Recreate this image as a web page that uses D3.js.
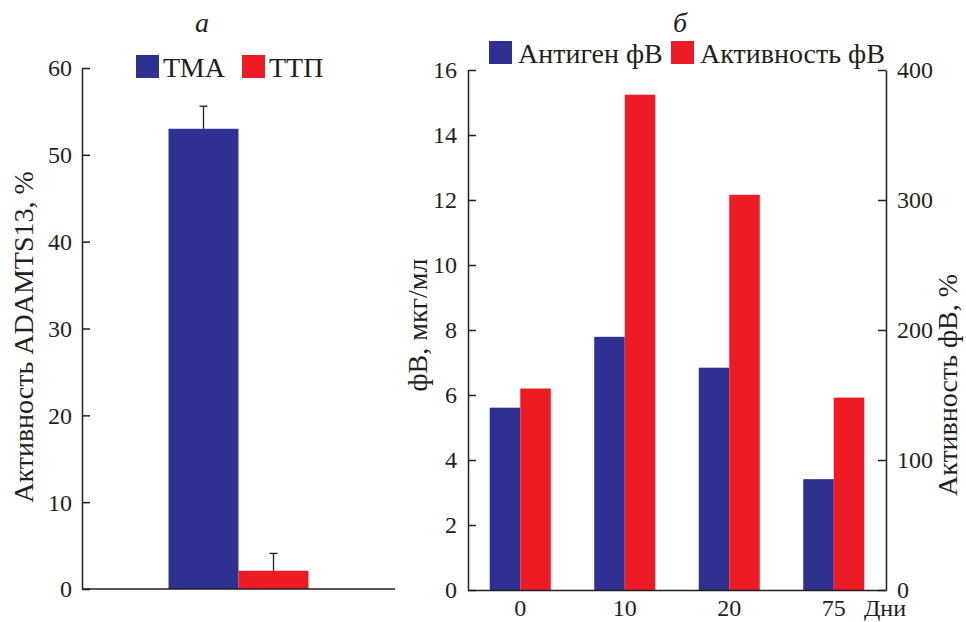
<!DOCTYPE html>
<html><head><meta charset="utf-8"><script src="https://cdn.jsdelivr.net/npm/d3@7"></script></head>
<body style="margin:0">
<svg id="chart" width="966" height="622"></svg>
<script>
// panel a data
var groupsA = ["ТМА", "ТТП"];
var valuesA = [53.0, 2.1];
var errorsA = [2.6, 2.0];
var ticksA = [0, 10, 20, 30, 40, 50, 60];

// panel b data
var days = ["0", "10", "20", "75"];
var antigen = [5.61, 7.79, 6.84, 3.41];
var activity = [155, 381, 304, 148];
var ticksLeftB = [0, 2, 4, 6, 8, 10, 12, 14, 16];
var ticksRightB = [0, 100, 200, 300, 400];
var seriesB = ["Антиген фВ", "Активность фВ"];

var blue = "#2e3192", red = "#ed1c24", ink = "#231f20";
var svg = d3.select("#chart");

// all texts go straight on the svg root
function txt(size, s) {
  return svg.append("text")
    .style("font-family", "'Liberation Serif'")
    .style("font-size", size + "px")
    .attr("fill", ink)
    .text(s);
}

// ---------- panel a ----------
var xA = d3.scaleBand().domain(["g"]).range([82, 395]).padding(0.382);
var xAin = d3.scaleBand().domain(groupsA).range([0, xA.bandwidth()]);
var yA = d3.scaleLinear().domain([0, 60]).range([589, 68]);

svg.selectAll("rect.barA")
  .data(groupsA)
  .join("rect")
  .attr("x", d => xA("g") + xAin(d))
  .attr("y", (d, i) => yA(valuesA[i]))
  .attr("width", xAin.bandwidth())
  .attr("height", (d, i) => yA(0) - yA(valuesA[i]))
  .attr("fill", (d, i) => i == 0 ? blue : red);

// error bars, upward only
groupsA.forEach((d, i) => {
  var cx = xA("g") + xAin(d) + xAin.bandwidth() / 2;
  var top = yA(valuesA[i] + errorsA[i]);
  svg.append("line")
    .attr("x1", cx).attr("x2", cx)
    .attr("y1", yA(valuesA[i])).attr("y2", top)
    .attr("stroke", ink).attr("stroke-width", 1.3);
  svg.append("line")
    .attr("x1", cx - 4).attr("x2", cx + 4)
    .attr("y1", top).attr("y2", top)
    .attr("stroke", ink).attr("stroke-width", 1.3);
});

svg.append("g")
  .attr("transform", "translate(82,0)")
  .call(d3.axisRight(yA).tickValues(ticksA).tickSize(8).tickFormat("").tickSizeOuter(0));
ticksA.forEach(t => {
  txt(24, t).attr("x", 72).attr("y", yA(t)).attr("dy", "0.35em").attr("text-anchor", "end");
});
svg.append("line")
  .attr("x1", 82).attr("x2", 395).attr("y1", yA(0)).attr("y2", yA(0))
  .attr("stroke", ink).attr("stroke-width", 1.5);

txt(28, "Активность ADAMTS13, %")
  .attr("transform", "translate(33,337) rotate(-90)")
  .attr("text-anchor", "middle");

txt(28, "а")
  .attr("x", 202).attr("y", 32)
  .attr("text-anchor", "middle")
  .style("font-style", "italic");

// legend a
var legA = [{ x: 136, c: blue }, { x: 242, c: red }];
groupsA.forEach((d, i) => {
  svg.append("rect").attr("x", legA[i].x).attr("y", 55).attr("width", 23).attr("height", 23).attr("fill", legA[i].c);
  txt(28, d).attr("x", legA[i].x + 27).attr("y", 77);
});

// ---------- panel b ----------
var xB = d3.scaleBand().domain(days).range([468, 886]).paddingInner(0.416).paddingOuter(0.208);
var xBin = d3.scaleBand().domain(seriesB).range([0, xB.bandwidth()]);
var yL = d3.scaleLinear().domain([0, 16]).range([590, 70]);
var yR = d3.scaleLinear().domain([0, 400]).range([590, 70]);

svg.selectAll("rect.ag")
  .data(days)
  .join("rect")
  .attr("x", d => xB(d) + xBin(seriesB[0]))
  .attr("y", (d, i) => yL(antigen[i]))
  .attr("width", xBin.bandwidth())
  .attr("height", (d, i) => yL(0) - yL(antigen[i]))
  .attr("fill", blue);

svg.selectAll("rect.act")
  .data(days)
  .join("rect")
  .attr("x", d => xB(d) + xBin(seriesB[1]))
  .attr("y", (d, i) => yR(activity[i]))
  .attr("width", xBin.bandwidth())
  .attr("height", (d, i) => yR(0) - yR(activity[i]))
  .attr("fill", red);

svg.append("g")
  .attr("transform", "translate(468,0)")
  .call(d3.axisRight(yL).tickValues(ticksLeftB).tickSize(8).tickFormat("").tickSizeOuter(0));
ticksLeftB.forEach(t => {
  txt(24, t).attr("x", 457).attr("y", yL(t)).attr("dy", "0.35em").attr("text-anchor", "end");
});

svg.append("g")
  .attr("transform", "translate(886,0)")
  .call(d3.axisLeft(yR).tickValues(ticksRightB).tickSize(8).tickFormat("").tickSizeOuter(0));
ticksRightB.forEach(t => {
  txt(24, t).attr("x", 897).attr("y", yR(t)).attr("dy", "0.35em");
});

svg.append("g")
  .attr("transform", "translate(0,590)")
  .call(d3.axisBottom(xB).tickSize(0).tickFormat("").tickSizeOuter(0));
days.forEach(d => {
  txt(24, d).attr("x", xB(d) + xB.bandwidth() / 2).attr("y", 616).attr("text-anchor", "middle");
});

txt(24, "Дни").attr("x", 864).attr("y", 616);

txt(28, "фВ, мкг/мл")
  .attr("transform", "translate(427,325) rotate(-90)")
  .attr("text-anchor", "middle");

txt(28, "Активность фВ, %")
  .attr("transform", "translate(957,385) rotate(-90)")
  .attr("text-anchor", "middle");

txt(28, "б")
  .attr("x", 680).attr("y", 32)
  .attr("text-anchor", "middle")
  .style("font-style", "italic");

var legB = [{ x: 489, c: blue }, { x: 671, c: red }];
seriesB.forEach((d, i) => {
  svg.append("rect").attr("x", legB[i].x).attr("y", 41).attr("width", 23).attr("height", 23).attr("fill", legB[i].c);
  txt(28, d).attr("x", legB[i].x + 29).attr("y", 63);
});

// axis lines
svg.selectAll(".domain").attr("stroke", ink).attr("stroke-width", 1.5);
svg.selectAll(".tick line").attr("stroke", ink).attr("stroke-width", 1.5);
</script>
</body></html>
